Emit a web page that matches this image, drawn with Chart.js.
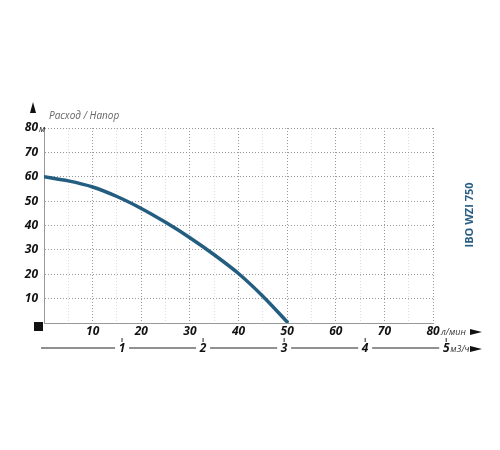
<!DOCTYPE html>
<html><head><meta charset="utf-8">
<script src="https://cdn.jsdelivr.net/npm/chart.js@4"></script>
<style>html,body{margin:0;padding:0;background:#fff}#w{width:500px;height:450px}</style>
</head><body><div id="w"><canvas id="c"></canvas></div>
<script>
const flowLmin = [0, 5, 10, 15, 20, 25, 30, 35, 40, 45, 50];
const headM = [60, 58.3, 55.8, 51.9, 47, 41.3, 35, 28, 20.3, 11, 0.5];
const xTickLabels = [10, 20, 30, 40, 50, 60, 70, 80];
const yTickLabels = [10, 20, 30, 40, 50, 60, 70, 80];
const m3hLabels = [1, 2, 3, 4, 5];
const LMIN_PER_M3H = 16.667;

const deco = {
  id: 'deco',
  afterDraw(ch) {
    const c = ch.ctx, x = ch.scales.x, y = ch.scales.y, a = ch.chartArea;
    c.save();
    c.fillStyle = '#111';
    c.font = 'italic bold 12px "Open Sans", sans-serif';
    c.textBaseline = 'middle';
    c.textAlign = 'right';
    yTickLabels.forEach(v => c.fillText(v, a.left - 6, y.getPixelForValue(v)));
    c.font = 'italic 9px "Open Sans", sans-serif';
    c.textAlign = 'left';
    c.fillText('м', a.left - 5, y.getPixelForValue(80) + 1);
    c.font = 'italic bold 12px "Open Sans", sans-serif';
    c.textAlign = 'center';
    xTickLabels.forEach(v => c.fillText(v, x.getPixelForValue(v), a.bottom + 9));
    c.font = 'italic 9px "Open Sans", sans-serif';
    c.textAlign = 'left';
    c.fillStyle = '#333';
    c.fillText('л/мин', x.getPixelForValue(80) + 8, a.bottom + 9);
    c.fillStyle = '#111';
    const arr = (ax, ay) => { c.beginPath(); c.moveTo(ax, ay); c.lineTo(ax - 12, ay - 3); c.lineTo(ax - 12, ay + 3); c.closePath(); c.fill(); };
    arr(482, a.bottom + 9);
    arr(482, 349);
    c.beginPath(); c.moveTo(33, 102); c.lineTo(30, 113); c.lineTo(36, 113); c.closePath(); c.fill();
    c.fillRect(34, 322, 9, 9);
    c.font = 'italic 10px "Open Sans", sans-serif';
    c.fillStyle = '#666';
    c.textAlign = 'left';
    c.fillText('Расход / Напор', 49, 116);
    c.strokeStyle = '#222'; c.lineWidth = 1;
    let prev = 41;
    c.font = 'italic bold 12px "Open Sans", sans-serif';
    c.fillStyle = '#111';
    c.textAlign = 'center';
    m3hLabels.forEach(v => {
      const px = x.getPixelForValue(v * LMIN_PER_M3H) - 3;
      c.beginPath(); c.moveTo(prev, 348); c.lineTo(px - 7, 348); c.stroke();
      c.beginPath(); c.moveTo(px, 338); c.lineTo(px, 342); c.stroke();
      c.fillText(v, px, 349);
      prev = px + 7;
    });
    c.font = 'italic 9px "Open Sans", sans-serif';
    c.fillStyle = '#333';
    c.textAlign = 'left';
    c.fillText('м3/ч', x.getPixelForValue(5 * LMIN_PER_M3H) + 1, 349);
    c.translate(470, 215);
    c.rotate(-Math.PI / 2);
    c.font = 'bold 11px "Open Sans", sans-serif';
    c.fillStyle = '#2a5f85';
    c.textAlign = 'center';
    c.fillText('IBO WZI 750', 0, 0);
    c.restore();
  }
};

new Chart(document.getElementById('c'), {
  type: 'line',
  data: { datasets: [{ data: flowLmin.map((f, i) => ({ x: f, y: headM[i] })),
    borderColor: '#235d80', borderWidth: 3.5, pointRadius: 0, tension: 0.3, fill: false }] },
  options: {
    responsive: true, maintainAspectRatio: false, animation: false,
    layout: { padding: { left: 44, right: 67, top: 128, bottom: 127 } },
    plugins: { legend: { display: false }, tooltip: { enabled: false } },
    scales: {
      x: { type: 'linear', min: 0, max: 80, ticks: { display: false, stepSize: 5 },
        grid: { drawTicks: false, color: ctx => ctx.tick.value % 10 === 0 ? '#999' : '#ddd', lineWidth: 1 },
        border: { display: true, color: '#999', dash: [1, 2] } },
      y: { min: 0, max: 80, ticks: { display: false, stepSize: 10 },
        grid: { drawTicks: false, color: '#999' },
        border: { display: true, color: '#999', dash: [1, 2] } }
    },
    elements: { line: { borderCapStyle: 'round' } }
  },
  plugins: [deco]
});
</script>
</body></html>
